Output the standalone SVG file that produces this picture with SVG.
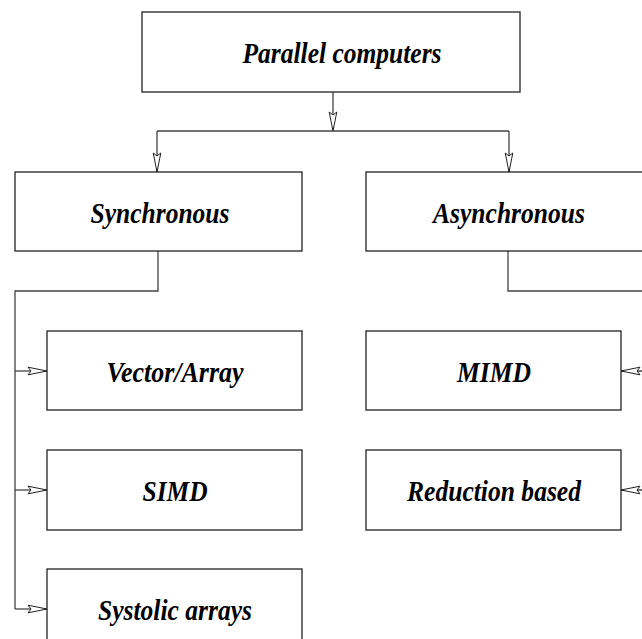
<svg xmlns="http://www.w3.org/2000/svg" width="642" height="639" viewBox="0 0 642 639">
  <style>
    .box { fill: #ffffff; stroke: #222222; stroke-width: 1.3; }
    .lbl { font-family: "Liberation Serif", "Times New Roman", serif; font-size: 30px; font-weight: bold; font-style: italic; fill: #000000; text-anchor: middle; }
    .wire { fill: none; stroke: #444444; stroke-width: 1.3; }
    .arrow { stroke: #444444; stroke-width: 1.3; fill: none; marker-end: url(#head); }
  </style>
  <defs>
    <marker id="head" viewBox="-21 -5 22 10" refX="0" refY="0" markerWidth="22" markerHeight="10" markerUnits="userSpaceOnUse" orient="auto">
      <path d="M0,0 L-19,-3.8 L-16,0 L-19,3.8 Z" fill="#ffffff" stroke="#222222" stroke-width="1"/>
    </marker>
  </defs>
  <rect width="642" height="639" fill="#ffffff"/>

  <!-- connectors -->
  <g id="connectors">
    <path class="arrow" d="M333,92 V131"/>
    <path class="wire" d="M157,131 H509"/>
    <path class="arrow" d="M157,131 V172"/>
    <path class="arrow" d="M509,131 V172"/>
    <!-- synchronous branch -->
    <path class="wire" d="M158,251 V291 H15 V609"/>
    <path class="arrow" d="M15,371 H47"/>
    <path class="arrow" d="M15,490 H47"/>
    <path class="arrow" d="M15,609 H47"/>
    <!-- asynchronous branch -->
    <path class="wire" d="M508,251 V291 H660 V500"/>
    <path class="arrow" d="M660,371 H621"/>
    <path class="arrow" d="M660,490 H621"/>
  </g>

  <g id="parallel">
    <rect class="box" x="142" y="12" width="378" height="80"/>
    <text class="lbl" x="342" y="63" textLength="199" lengthAdjust="spacingAndGlyphs">Parallel computers</text>
  </g>
  <g id="synchronous">
    <rect class="box" x="15" y="172" width="287" height="79"/>
    <text class="lbl" x="160" y="223" textLength="139" lengthAdjust="spacingAndGlyphs">Synchronous</text>
  </g>
  <g id="asynchronous">
    <rect class="box" x="366" y="172" width="287" height="79"/>
    <text class="lbl" x="509" y="223" textLength="152" lengthAdjust="spacingAndGlyphs">Asynchronous</text>
  </g>
  <g id="vector">
    <rect class="box" x="47" y="331" width="255" height="79"/>
    <text class="lbl" x="175" y="382" textLength="137" lengthAdjust="spacingAndGlyphs">Vector/Array</text>
  </g>
  <g id="simd">
    <rect class="box" x="47" y="450" width="255" height="80"/>
    <text class="lbl" x="175" y="501" textLength="65" lengthAdjust="spacingAndGlyphs">SIMD</text>
  </g>
  <g id="systolic">
    <rect class="box" x="47" y="569" width="255" height="80"/>
    <text class="lbl" x="175" y="620" textLength="154" lengthAdjust="spacingAndGlyphs">Systolic arrays</text>
  </g>
  <g id="mimd">
    <rect class="box" x="366" y="331" width="255" height="79"/>
    <text class="lbl" x="494" y="382" textLength="74" lengthAdjust="spacingAndGlyphs">MIMD</text>
  </g>
  <g id="reduction">
    <rect class="box" x="366" y="450" width="255" height="80"/>
    <text class="lbl" x="494" y="501" textLength="174" lengthAdjust="spacingAndGlyphs">Reduction based</text>
  </g>
</svg>
